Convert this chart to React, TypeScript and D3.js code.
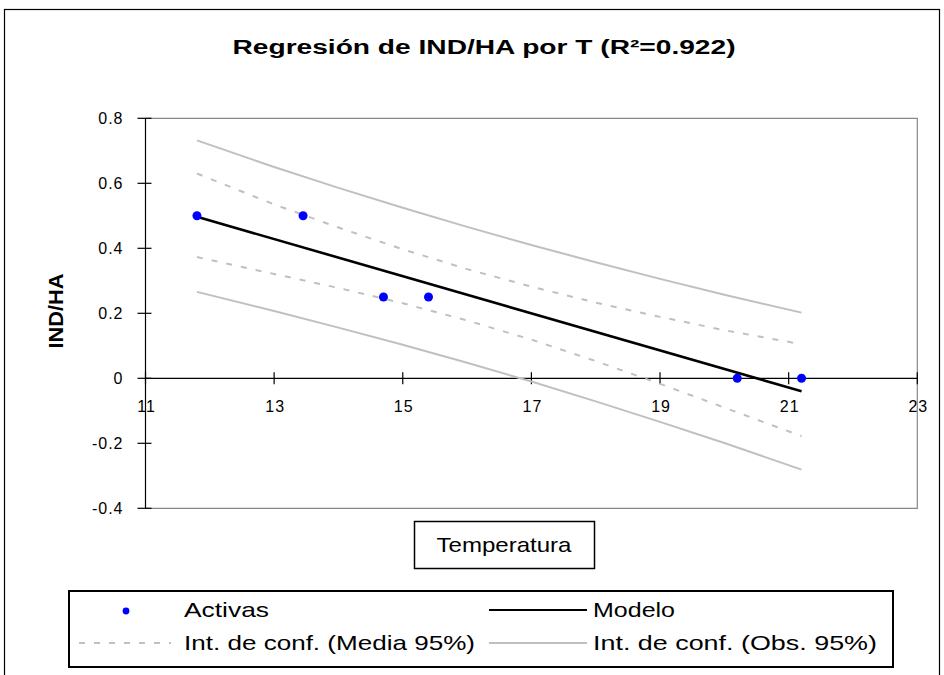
import React from 'react';
import * as d3 from 'd3';

// Observations (Activas)
const temps = [11.8, 13.45, 14.7, 15.4, 20.2, 21.2];
const indHa = [0.5, 0.5, 0.25, 0.25, 0, 0];

// Model line
const modelX = [11.8, 21.2];
const modelY = [0.497, -0.04];

// Confidence bands read at these temperatures
const bandX = [11.8, 13, 14, 15, 16, 17, 18, 19, 20, 21.2];
const meanUpper = [0.63, 0.535, 0.464, 0.397, 0.336, 0.282, 0.233, 0.189, 0.148, 0.105];
const meanLower = [0.373, 0.321, 0.278, 0.231, 0.178, 0.119, 0.053, -0.017, -0.09, -0.178];
const obsUpper = [0.732, 0.65, 0.586, 0.525, 0.466, 0.41, 0.357, 0.306, 0.257, 0.202];
const obsLower = [0.266, 0.207, 0.156, 0.103, 0.048, -0.01, -0.071, -0.134, -0.199, -0.281];

const xTicks = [11, 13, 15, 17, 19, 21, 23];
const xTickLabels = ['11', '13', '15', '17', '19', '21', '23'];
const yTicks = [0.8, 0.6, 0.4, 0.2, 0, -0.2, -0.4];
const yTickLabels = ['0.8', '0.6', '0.4', '0.2', '0', '-0.2', '-0.4'];

const FONT = '"Liberation Sans", Arial, Helvetica, sans-serif';

export default function App() {
  const x = d3.scaleLinear().domain([11, 23]).range([145.5, 917.3]);
  const y = d3.scaleLinear().domain([-0.4, 0.8]).range([508.3, 118.3]);
  const line = d3
    .line<[number, number]>()
    .x((d) => x(d[0]))
    .y((d) => y(d[1]));

  const zip = (xs: number[], ys: number[]) => xs.map((v, i) => [v, ys[i]] as [number, number]);

  const gray = '#c0c0c0';

  return (
    <svg
      width={944}
      height={675}
      style={{ position: 'absolute', left: 0, top: 0, background: '#fff' }}
      fontFamily={FONT}
    >
      <rect x={0} y={0} width={944} height={675} fill="#fff" />
      {/* outer frame */}
      <rect x={4.5} y={9.5} width={935} height={700} fill="none" stroke="#000" strokeWidth={1.2} />

      {/* title */}
      <text
        x={484}
        y={54}
        textAnchor="middle"
        fontSize={20}
        fontWeight="bold"
        textLength={503}
        lengthAdjust="spacingAndGlyphs"
      >
        Regresión de IND/HA por T (R²=0.922)
      </text>

      {/* plot area border */}
      <path
        d={`M${x(11)},${y(0.8)}H${x(23)}V${y(-0.4)}H${x(11)}`}
        fill="none"
        stroke="#888"
        strokeWidth={1.2}
      />

      {/* y axis */}
      <line x1={x(11)} x2={x(11)} y1={y(0.8)} y2={y(-0.4)} stroke="#000" strokeWidth={1.2} />
      {yTicks.map((t, i) => (
        <g key={'yt' + i}>
          <line x1={x(11) - 8} x2={x(11) + 6} y1={y(t)} y2={y(t)} stroke="#000" strokeWidth={1.2} />
          <text x={123.5} y={y(t) + 5.5} textAnchor="end" fontSize={16} letterSpacing={1}>
            {yTickLabels[i]}
          </text>
        </g>
      ))}

      {/* x axis at 0 */}
      <line x1={x(11)} x2={x(23)} y1={y(0)} y2={y(0)} stroke="#000" strokeWidth={1.2} />
      {xTicks.map((t, i) => (
        <g key={'xt' + i}>
          <line x1={x(t)} x2={x(t)} y1={y(0) - 6} y2={y(0) + 6} stroke="#000" strokeWidth={1.2} />
          <text x={x(t) + 1} y={412} textAnchor="middle" fontSize={16} letterSpacing={1}>
            {xTickLabels[i]}
          </text>
        </g>
      ))}

      {/* y axis title */}
      <text
        transform="translate(63,311) rotate(-90)"
        textAnchor="middle"
        fontSize={20}
        fontWeight="bold"
        textLength={75}
        lengthAdjust="spacingAndGlyphs"
      >
        IND/HA
      </text>

      {/* bands */}
      <path d={line(zip(bandX, obsUpper)) || ''} fill="none" stroke={gray} strokeWidth={2} />
      <path d={line(zip(bandX, obsLower)) || ''} fill="none" stroke={gray} strokeWidth={2} />
      <path d={line(zip(bandX, meanUpper)) || ''} fill="none" stroke={gray} strokeWidth={2} strokeDasharray="6 9" />
      <path d={line(zip(bandX, meanLower)) || ''} fill="none" stroke={gray} strokeWidth={2} strokeDasharray="6 9" />

      {/* model */}
      <path d={line(zip(modelX, modelY)) || ''} fill="none" stroke="#000" strokeWidth={2.6} />

      {/* points */}
      {temps.map((t, i) => (
        <circle key={'p' + i} cx={x(t)} cy={y(indHa[i])} r={4.5} fill="#0000ff" />
      ))}

      {/* x axis title box */}
      <rect x={414.5} y={521.5} width={180} height={47} fill="#fff" stroke="#000" strokeWidth={1.5} />
      <text x={504} y={552} textAnchor="middle" fontSize={21} textLength={135} lengthAdjust="spacingAndGlyphs">
        Temperatura
      </text>

      {/* legend */}
      <rect x={69} y={591} width={824} height={76} fill="#fff" stroke="#000" strokeWidth={2} />
      <circle cx={126} cy={611} r={3.4} fill="#0000ff" />
      <text x={184} y={617} fontSize={21} textLength={85} lengthAdjust="spacingAndGlyphs">
        Activas
      </text>
      <line x1={489} x2={587} y1={610} y2={610} stroke="#000" strokeWidth={2} />
      <text x={593} y={617} fontSize={21} textLength={82} lengthAdjust="spacingAndGlyphs">
        Modelo
      </text>
      <line x1={79} x2={171} y1={643} y2={643} stroke={gray} strokeWidth={2} strokeDasharray="6 9" />
      <text x={184} y={650} fontSize={21} textLength={291} lengthAdjust="spacingAndGlyphs">
        Int. de conf. (Media 95%)
      </text>
      <line x1={489} x2={587} y1={643} y2={643} stroke={gray} strokeWidth={2} />
      <text x={593} y={650} fontSize={21} textLength={284} lengthAdjust="spacingAndGlyphs">
        Int. de conf. (Obs. 95%)
      </text>
    </svg>
  );
}
